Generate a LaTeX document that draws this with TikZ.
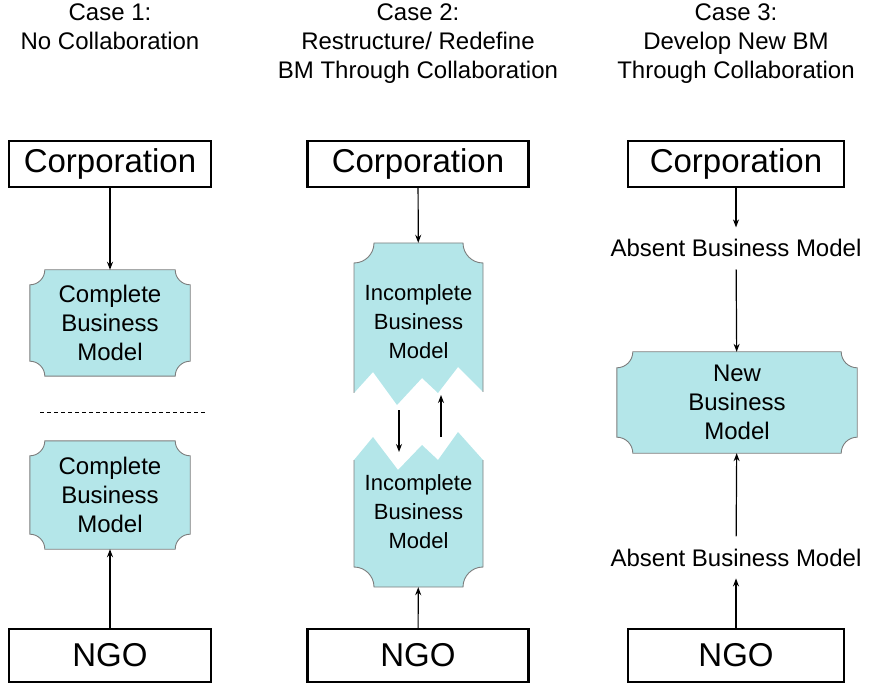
\documentclass[tikz,border=0pt]{standalone}
\usepackage{fontspec}
\setmainfont{Liberation Sans}
\usepackage{tikz}
\usetikzlibrary{arrows.meta,positioning,backgrounds}
\usepackage{xcolor}
\definecolor{bmteal}{RGB}{180,230,233}
\definecolor{bmedge}{RGB}{125,125,125}

% plaque with concave corners round a node: #1 node, #2 corner radius
\newcommand{\bmplaque}[2]{%
	\filldraw[fill=bmteal,draw=bmedge,line width=0.9pt]
		([xshift=#2]#1.north west) -- ([xshift=-#2]#1.north east)
		arc[start angle=180,end angle=270,radius=#2]
		-- ([yshift=#2]#1.south east)
		arc[start angle=90,end angle=180,radius=#2]
		-- ([xshift=#2]#1.south west)
		arc[start angle=0,end angle=90,radius=#2]
		-- ([yshift=-#2]#1.north west)
		arc[start angle=270,end angle=360,radius=#2]
		-- cycle;}

\begin{document}
\begin{tikzpicture}[x=1pt,y=-1pt,
	title/.style={align=center,anchor=north,inner sep=0pt,font=\fontsize{24}{29}\selectfont},
	party/.style={draw,line width=2.5pt,minimum height=46pt,inner sep=0pt,font=\fontsize{33}{36}\selectfont},
	bm/.style={align=center,inner sep=0pt,font=\fontsize{24}{29}\selectfont},
	torn/.style={align=center,inner sep=0pt,font=\fontsize{22}{29}\selectfont},
	absent/.style={anchor=base,inner xsep=0pt,inner ysep=12pt,font=\fontsize{24}{29}\selectfont},
	link/.style={-{Stealth[length=8pt,width=6pt]},line width=1.2pt}]
	\useasboundingbox (0,0) rectangle (870,692);

	% headings
	\node[title] (case1) at (110,4) {Case 1:\\No Collaboration};
	\node[title] (case2) at (418,4) {Case 2:\\Restructure/ Redefine\\BM Through Collaboration};
	\node[title] (case3) at (736,4) {Case 3:\\Develop New BM\\Through Collaboration};

	% partners
	\node[party,minimum width=202pt] (corp1) at (110,164) {Corporation};
	\node[party,minimum width=221pt] (corp2) at (418,164) {Corporation};
	\node[party,minimum width=216pt] (corp3) at (736,164) {Corporation};
	\node[party,minimum width=202pt,minimum height=53pt] (ngo1) at (110,655.5) {NGO};
	\node[party,minimum width=221pt,minimum height=53pt] (ngo2) at (418,655.5) {NGO};
	\node[party,minimum width=216pt,minimum height=53pt] (ngo3) at (736,655.5) {NGO};

	% case 1
	\node[bm,minimum width=160pt,minimum height=106pt] (cbm1) at (110,323) {Complete\\Business\\Model};
	\node[bm,minimum width=160pt,minimum height=108pt] (cbm2) at (110,495) {Complete\\Business\\Model};
	\draw[dashed,line width=0.8pt,dash pattern=on 4pt off 3pt] (40,412) -- (207,412);

	% case 2
	\node[torn,minimum width=129pt,minimum height=157pt] (inc1) at (418.5,321.5) {Incomplete\\Business\\Model};
	\node[torn,minimum width=129pt,minimum height=150pt] (inc2) at (418.5,512) {Incomplete\\Business\\Model};
	\coordinate (tear1) at (399,410);
	\coordinate (tear2) at (399,452);
	\coordinate (tear3) at (441,437);
	\coordinate (tear4) at (441,395);

	% case 3
	\node[absent] (abs1) at (736,257) {Absent Business Model};
	\node[bm,minimum width=240pt,minimum height=101pt] (nbm) at (737,402.5) {New\\Business\\Model};
	\node[absent] (abs2) at (736,566) {Absent Business Model};

	\begin{pgfonlayer}{background}
		\bmplaque{cbm1}{15pt}
		\bmplaque{cbm2}{15pt}
		\bmplaque{nbm}{16pt}
		% torn pieces
		\fill[bmteal] (354,263) arc[start angle=270,end angle=360,radius=20pt] -- (463,243)
			arc[start angle=180,end angle=270,radius=20pt] -- (483,392) -- (458,367) -- (438,393)
			-- (422,378) -- (397,405) -- (373,372) -- (354,393) -- cycle;
		\draw[bmedge,line width=0.9pt] (354,393) -- (354,263) arc[start angle=270,end angle=360,radius=20pt]
			-- (463,243) arc[start angle=180,end angle=270,radius=20pt] -- (483,392);
		\fill[bmteal] (354,460) -- (373,437) -- (398,470) -- (422,445) -- (438,460) -- (458,432)
			-- (483,460) -- (483,567) arc[start angle=90,end angle=180,radius=20pt] -- (374,587)
			arc[start angle=0,end angle=90,radius=20pt] -- cycle;
		\draw[bmedge,line width=0.9pt] (483,460) -- (483,567) arc[start angle=90,end angle=180,radius=20pt]
			-- (374,587) arc[start angle=0,end angle=90,radius=20pt] -- (354,460);
	\end{pgfonlayer}

	% links
	\draw[link] (corp1) -- (cbm1);
	\draw[link] (ngo1) -- (cbm2);
	\draw[link] (corp2) -- (inc1);
	\draw[link] (ngo2) -- (inc2);
	\draw[link] (tear1) -- (tear2);
	\draw[link] (tear3) -- (tear4);
	\draw[link] (corp3) -- (abs1);
	\draw[link] (abs1) -- (nbm);
	\draw[link] (ngo3) -- (abs2);
	\draw[link] (abs2) -- (nbm);
\end{tikzpicture}
\end{document}
